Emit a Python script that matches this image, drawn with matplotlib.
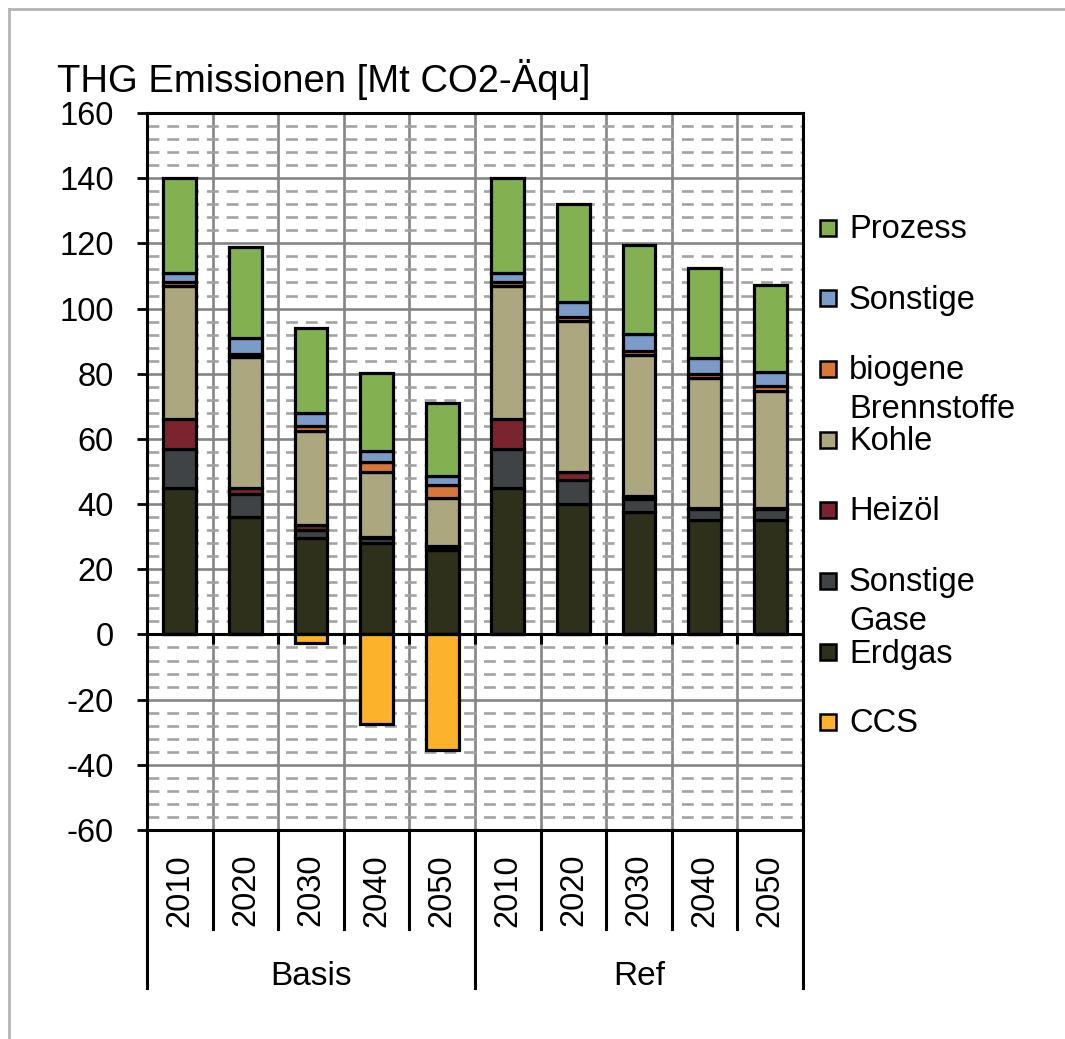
import matplotlib
matplotlib.use("Agg")
import matplotlib.pyplot as plt
import matplotlib.transforms as mtransforms
from matplotlib.patches import Rectangle
from matplotlib.lines import Line2D
import numpy as np

plt.rcParams['font.family'] = ['Liberation Sans', 'DejaVu Sans']
plt.rcParams['axes.unicode_minus'] = False

# ---- data ----
years = ['2010', '2020', '2030', '2040', '2050', '2010', '2020', '2030', '2040', '2050']
groups = ['Basis', 'Ref']
erdgas = [45, 36, 29.5, 28, 25.8, 45, 40, 37.6, 35.2, 35.2]
sonstige_gase = [12, 7, 2.5, 1.5, 1, 12, 7.3, 4, 3.4, 3.4]
heizoel = [9, 2, 1.5, 0.3, 0.2, 9, 2.5, 1, 0.2, 0.1]
kohle = [41, 40, 29, 20, 15, 41, 46.5, 43, 40, 36]
biogene = [1, 1, 1.5, 3, 4, 1, 1, 1.5, 1, 1.4]
sonstige = [3, 5, 4, 3.5, 2.5, 3, 4.7, 5, 5, 4.4]
prozess = [29, 28, 26, 24, 22.5, 29, 30, 27.5, 27.5, 26.6]
ccs = [0, 0, -2.5, -27.5, -35.5, 0, 0, 0, 0, 0]

series = [erdgas, sonstige_gase, heizoel, kohle, biogene, sonstige, prozess]
colors = ['#2f301c', '#404346', '#7b2430', '#aca77f', '#d9773a', '#7b9bc9', '#83b152']
ccs_color = '#fdb22b'

legend_labels = ['Prozess', 'Sonstige', 'biogene\nBrennstoffe', 'Kohle', 'Heizöl',
                 'Sonstige\nGase', 'Erdgas', 'CCS']
legend_colors = ['#83b152', '#7b9bc9', '#d9773a', '#aca77f', '#7b2430',
                 '#404346', '#2f301c', ccs_color]

W, H = 1065, 1039
fig = plt.figure(figsize=(W / 100, H / 100), dpi=100)
ax = fig.add_axes([147 / W, 1 - 830 / H, (803 - 147) / W, (830 - 113) / H])

x = np.arange(len(years))
bottom = np.zeros(len(years))
for vals, c in zip(series, colors):
    v = np.array(vals, dtype=float)
    ax.bar(x, v, 0.5, bottom=bottom, color=c, edgecolor='black', linewidth=2.3, zorder=3)
    bottom += v
ax.bar(x, ccs, 0.5, color=ccs_color, edgecolor='black', linewidth=2.3, zorder=3)

ax.set_xlim(-0.5, len(years) - 0.5)
ax.set_ylim(-60, 160)
ax.set_yticks(np.arange(-60, 161, 20))
ax.set_yticks(np.arange(-60, 161, 4), minor=True)
ax.set_xticks([])
ax.set_xticks(np.arange(-0.5, len(years), 1), minor=True)
ax.set_axisbelow(True)
ax.yaxis.grid(True, which='major', color='#858585', lw=1.9, ls='-')
ax.yaxis.grid(True, which='minor', color='#a3a3a3', lw=1.9, ls=(0, (4.5, 3)))
ax.xaxis.grid(True, which='minor', color='#858585', lw=1.9, ls='-')
ax.tick_params(axis='y', which='major', direction='out', length=7, width=2,
               labelsize=23.5, pad=17)
ax.tick_params(axis='y', which='minor', length=0)
ax.tick_params(axis='x', which='both', length=0)
for s in ax.spines.values():
    s.set_color('black')
    s.set_linewidth(2.2)
ax.axhline(0, color='black', lw=2.2, zorder=4)
ax.vlines(np.arange(-0.5, len(years), 1), 0, -3, color='black', lw=2.2, zorder=4)

# category axis below
trans = mtransforms.blended_transform_factory(ax.transData, ax.transAxes)
for i, yr in enumerate(years):
    ax.text(i, -0.084, yr, rotation=90, ha='center', va='center', fontsize=23.5,
            transform=trans)
for b in np.arange(-0.5, len(years), 1):
    low = -0.2204 if b in (-0.5, 4.5, 9.5) else -0.138
    ax.add_line(Line2D([b, b], [0, low], color='black', lw=2.2, transform=trans,
                       clip_on=False))
for gi, g in enumerate(groups):
    ax.text(gi * 5 + 2, -0.205, g, ha='center', va='center', fontsize=24,
            transform=trans)

# title
fig.text(57 / W, 1 - 79 / H, 'THG Emissionen [Mt CO2-Äqu]', fontsize=27.5,
         ha='left', va='center')

# legend (manual)
entry_y = [228, 298, 369, 440, 510, 581, 652, 722]
for lab, c, yy in zip(legend_labels, legend_colors, entry_y):
    fig.add_artist(Rectangle((820 / W, 1 - (yy + 8) / H), 16 / W, 16 / H,
                             transform=fig.transFigure, facecolor=c,
                             edgecolor='black', lw=1.8))
    lines = lab.split('\n')
    for k, ln in enumerate(lines):
        fig.text(849 / W, 1 - (yy + 2 + k * 39) / H, ln, fontsize=23.5,
                 ha='left', va='center')

# outer border
fig.add_artist(Line2D([9 / W, 1], [1 - 8.5 / H, 1 - 8.5 / H], color='#b4b4b4', lw=2,
                      transform=fig.transFigure))
fig.add_artist(Line2D([9 / W, 9 / W], [0, 1 - 8.5 / H], color='#b4b4b4', lw=2,
                      transform=fig.transFigure))

fig.savefig('out.png', dpi=100)
